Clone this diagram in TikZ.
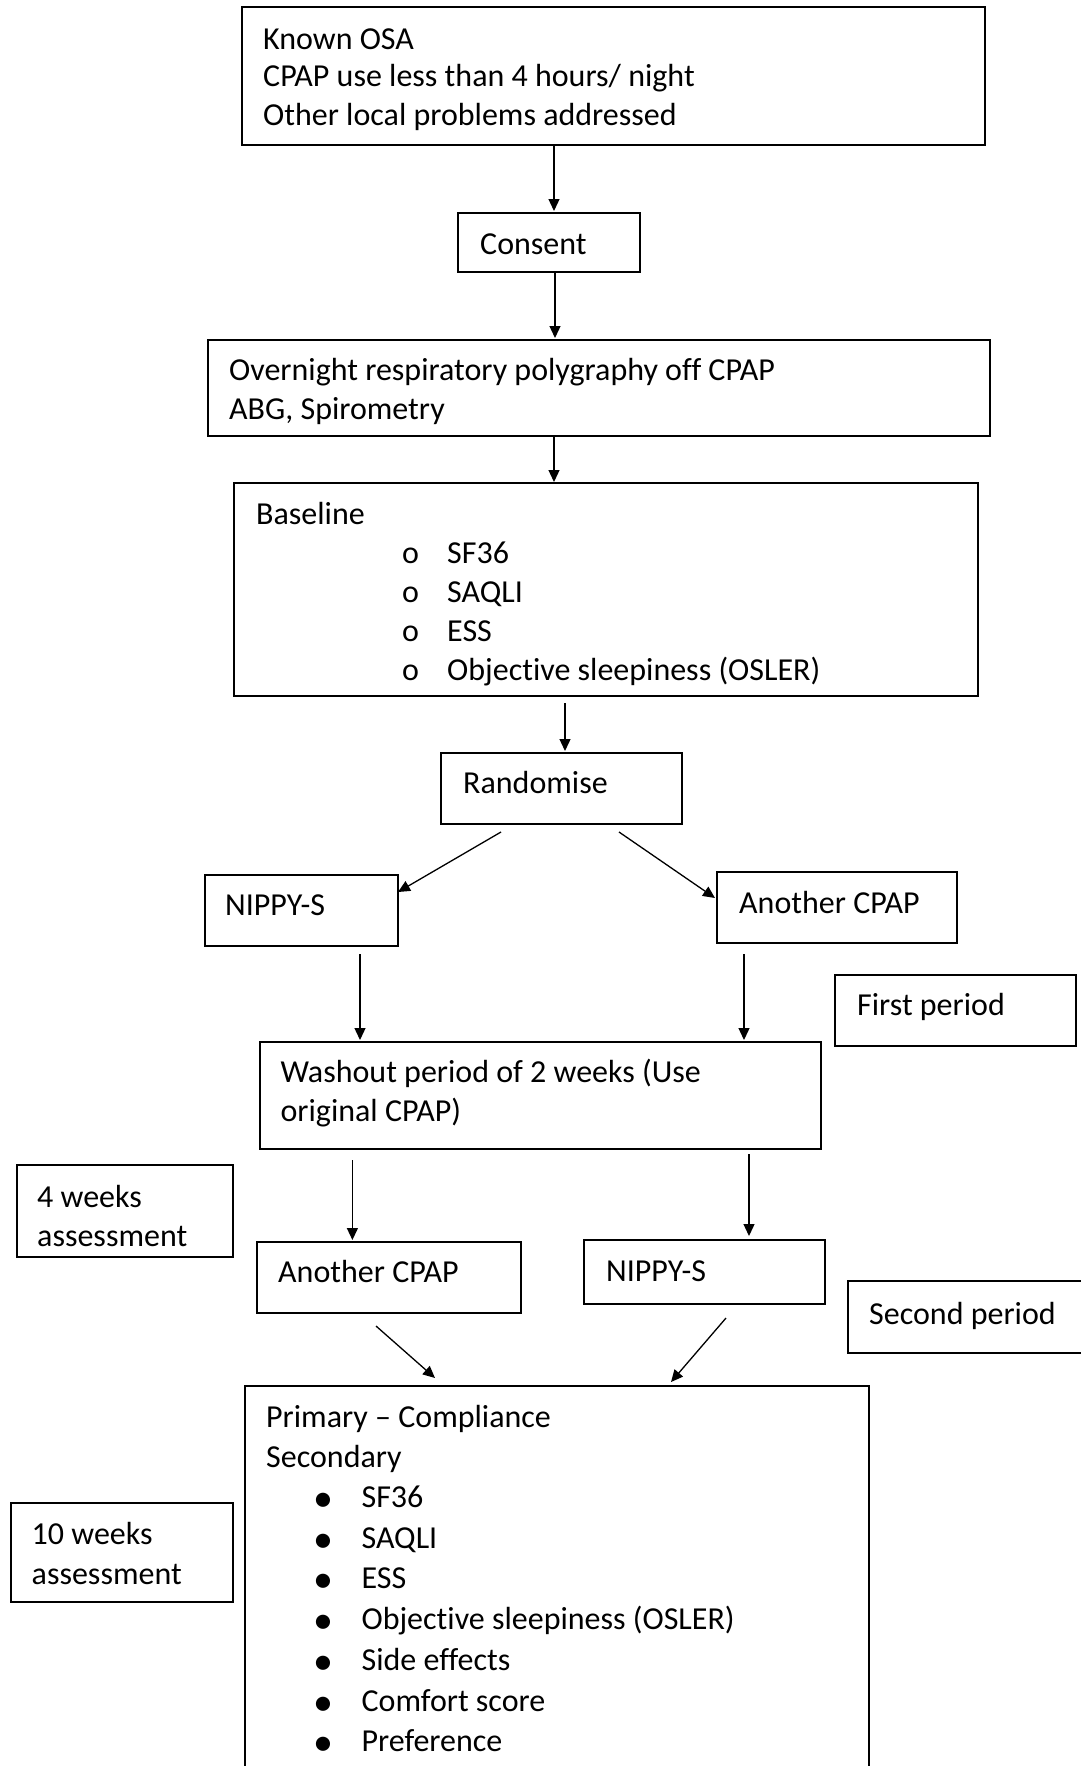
\documentclass[tikz,border=0pt]{standalone}
\usepackage{fontspec}
\setmainfont{Carlito}[Ligatures=NoCommon]
\usetikzlibrary{arrows.meta}
\begin{document}
\begin{tikzpicture}[x=1pt,y=-1pt,
  box/.style={draw, line width=1.6pt, inner sep=0pt, outer sep=0pt, anchor=north west},
  txt/.style={anchor=base west, inner sep=0pt, font=\fontsize{32}{38.8}\selectfont},
  bul/.style={anchor=base, inner sep=0pt, font=\fontsize{40}{40}\selectfont},
  arr/.style={line width=1.3pt, -{Triangle[length=12pt,width=11pt]}},
]
\useasboundingbox (0,0) rectangle (1081,1766);
\begin{scope}
\clip (0,0) rectangle (1081,1766);
% boxes
\node[box, minimum width=743pt, minimum height=138pt] (known) at (242,7) {};
\node[box, minimum width=182pt, minimum height=59pt] (consent) at (458,213) {};
\node[box, minimum width=782pt, minimum height=96pt] (overnight) at (208,340) {};
\node[box, minimum width=744pt, minimum height=213pt] (baseline) at (234,483) {};
\node[box, minimum width=241pt, minimum height=71pt] (random) at (441,753) {};
\node[box, minimum width=193pt, minimum height=71pt] (nippyA) at (205,875) {};
\node[box, minimum width=240pt, minimum height=71pt] (cpapA) at (717,872) {};
\node[box, minimum width=241pt, minimum height=71pt] (first) at (835,975) {};
\node[box, minimum width=561pt, minimum height=107pt] (washout) at (260,1042) {};
\node[box, minimum width=216pt, minimum height=92pt] (four) at (17,1165) {};
\node[box, minimum width=264pt, minimum height=71pt] (cpapB) at (257,1242) {};
\node[box, minimum width=241pt, minimum height=64pt] (nippyB) at (584,1240) {};
\node[box, minimum width=250pt, minimum height=72pt] (second) at (848,1281) {};
\node[box, minimum width=624pt, minimum height=430pt] (outcome) at (245,1386) {};
\node[box, minimum width=222pt, minimum height=99pt] (ten) at (11,1503) {};
\end{scope}
% texts
\node[txt] (t1) at (263,49.3) {Known OSA};
\node[txt] (t2) at (263,87) {CPAP use less than 4 hours/ night};
\node[txt] (t3) at (263,125) {Other local problems addressed};
\node[txt] (t4) at (480,254) {Consent};
\node[txt] (t5) at (229,380.5) {Overnight respiratory polygraphy off CPAP};
\node[txt] (t6) at (229,419.5) {ABG, Spirometry};
\node[txt] (t7) at (256,524.6) {Baseline};
\foreach \y/\t [count=\i] in {563/SF36, 602/SAQLI, 641/ESS, 680/Objective sleepiness (OSLER)}{
  \node[txt] (bo\i) at (402,\y) {o};
  \node[txt] (bt\i) at (447,\y) {\t};
}
\node[txt] (t8) at (463,793.7) {Randomise};
\node[txt] (t9) at (225,915.3) {NIPPY-S};
\node[txt] (t10) at (739,913) {Another CPAP};
\node[txt] (t11) at (857,1015.5) {First period};
\node[txt] (t12) at (280.4,1082) {Washout period of 2 weeks (Use};
\node[txt] (t13) at (280.4,1121) {original CPAP)};
\node[txt] (t14) at (37,1207) {4 weeks};
\node[txt] (t15) at (37,1246) {assessment};
\node[txt] (t16) at (278,1282.4) {Another CPAP};
\node[txt] (t17) at (606,1281.3) {NIPPY-S};
\node[txt] (t18) at (869,1324) {Second period};
\node[txt] (t19) at (266,1427.6) {Primary -- Compliance};
\node[txt] (t20) at (266,1467) {Secondary};
\foreach \y/\t [count=\i] in {1507.6/SF36, 1548/SAQLI, 1588.7/ESS, 1629.2/Objective sleepiness (OSLER), 1670.9/Side effects, 1711.4/Comfort score, 1751.9/Preference}{
  \node[bul] (ob\i) at (323,\y+4) {•};
  \node[txt] (ot\i) at (361.4,\y) {\t};
}
\node[txt] (t21) at (31.5,1544.7) {10 weeks};
\node[txt] (t22) at (31.5,1584) {assessment};
% arrow end points
\coordinate (k0) at (554,145);   \coordinate (k1) at (554,211);
\coordinate (c0) at (555,272);   \coordinate (c1) at (555,338);
\coordinate (o0) at (554,436);   \coordinate (o1) at (554,482);
\coordinate (b0) at (565,703);   \coordinate (b1) at (565,751);
\coordinate (r0) at (501,832);   \coordinate (r1) at (398,892);
\coordinate (r2) at (619,832);   \coordinate (r3) at (715,898);
\coordinate (n0) at (360,954);   \coordinate (n1) at (360,1040);
\coordinate (p0) at (744,954);   \coordinate (p1) at (744,1040);
\coordinate (w0) at (352.4,1160);\coordinate (w1) at (352.4,1240);
\coordinate (w2) at (749,1154);  \coordinate (w3) at (749,1236);
\coordinate (q0) at (376,1326);  \coordinate (q1) at (435,1378);
\coordinate (q2) at (726,1318);  \coordinate (q3) at (671,1382);
\draw[arr] (k0) -- (k1);
\draw[arr] (c0) -- (c1);
\draw[arr] (o0) -- (o1);
\draw[arr] (b0) -- (b1);
\draw[arr] (r0) -- (r1);
\draw[arr] (r2) -- (r3);
\draw[arr] (n0) -- (n1);
\draw[arr] (p0) -- (p1);
\draw[arr] (w0) -- (w1);
\draw[arr] (w2) -- (w3);
\draw[arr] (q0) -- (q1);
\draw[arr] (q2) -- (q3);
\end{tikzpicture}
\end{document}
